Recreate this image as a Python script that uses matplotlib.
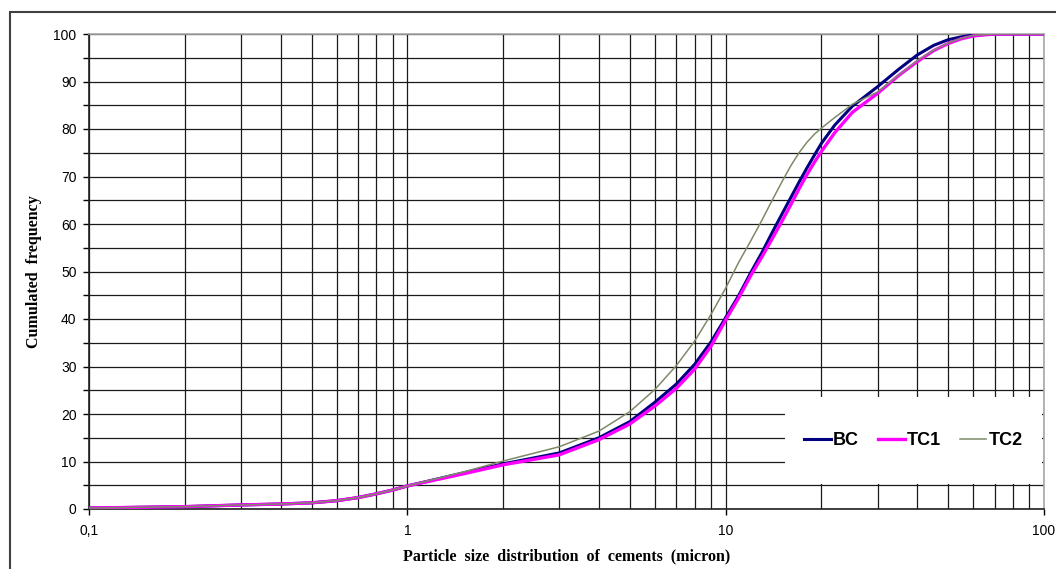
import matplotlib
matplotlib.use("Agg")
import matplotlib.pyplot as plt
from matplotlib.patches import Rectangle
from matplotlib.ticker import FixedLocator, FixedFormatter, MultipleLocator, NullFormatter, LogLocator

# particle sizes (micron)
sizes = [0.1, 0.2, 0.3, 0.4, 0.5, 0.6, 0.7, 0.8, 0.9, 1,
         1.5, 2, 3, 4, 5, 6, 7, 8, 9, 10,
         11, 12, 13, 14, 15, 16, 17, 18, 19, 20,
         22, 25, 30, 35, 40, 45, 50, 55, 60, 70,
         100]

# cumulated frequency (%) for each cement
bc_freq = [0.2, 0.5, 0.85, 1.05, 1.3, 1.75, 2.4, 3.2, 4.0, 4.85,
           7.6, 9.5, 11.8, 15.0, 18.4, 22.5, 26.3, 30.5, 35.2, 40.3,
           45.0, 49.8, 54.0, 58.2, 62.0, 65.5, 68.8, 71.8, 74.5, 77.0,
           80.8, 84.8, 88.9, 92.6, 95.6, 97.6, 98.8, 99.4, 99.8, 100,
           100]
tc1_freq = [0.2, 0.5, 0.85, 1.05, 1.3, 1.75, 2.4, 3.2, 4.0, 4.85,
            7.4, 9.3, 11.4, 14.6, 17.9, 21.7, 25.4, 29.5, 34.3, 39.8,
            44.5, 49.2, 53.1, 56.9, 60.5, 64.0, 67.4, 70.4, 73.0, 75.3,
            79.2, 83.5, 87.5, 91.3, 94.2, 96.5, 98.0, 99.0, 99.6, 100,
            100]
tc2_freq = [0.2, 0.5, 0.85, 1.05, 1.3, 1.75, 2.4, 3.2, 4.0, 4.85,
            7.8, 10.1, 13.1, 16.4, 20.5, 25.2, 30.2, 35.4, 41.0, 46.5,
            52.0, 56.5, 60.8, 65.0, 68.8, 72.2, 75.0, 77.2, 78.9, 80.2,
            82.4, 85.2, 87.8, 91.4, 94.4, 96.6, 98.1, 99.1, 99.7, 100,
            100]

x_ticks = [0.1, 1, 10, 100]
x_tick_labels = ["0,1", "1", "10", "100"]

fig = plt.figure(figsize=(10.56, 5.69), dpi=100)
ax = fig.add_axes([89 / 1056, 1 - 509 / 569, 955 / 1056, 475 / 569])

# outer frame of the chart area (only left and top edges are visible)
fig.add_artist(Rectangle((10 / 1056, -0.2), 1.2, 1.2 - 12 / 569,
                         transform=fig.transFigure, fill=False,
                         edgecolor="#404040", linewidth=1.5))

ax.plot(sizes, bc_freq, color="#000080", linewidth=2.2, label="BC", zorder=3)
ax.plot(sizes, tc1_freq, color="#ff00ff", linewidth=2.4, label="TC1", zorder=3)
ax.plot(sizes, tc2_freq, color="#7d8a68", linewidth=1.1, label="TC2", zorder=4)

ax.set_xscale("log")
ax.set_xlim(0.1, 100)
ax.set_ylim(0, 100)

ax.xaxis.set_major_locator(FixedLocator(x_ticks))
ax.xaxis.set_major_formatter(FixedFormatter(x_tick_labels))
ax.xaxis.set_minor_locator(LogLocator(base=10, subs=range(2, 10)))
ax.xaxis.set_minor_formatter(NullFormatter())

ax.yaxis.set_major_locator(MultipleLocator(10))
ax.yaxis.set_minor_locator(MultipleLocator(5))

ax.set_axisbelow(True)
ax.grid(True, which="both", color="#1a1a1a", linewidth=0.9)

ax.tick_params(axis="y", which="both", direction="out", length=4, width=1,
               pad=5, labelsize=10, colors="black")
ax.tick_params(axis="x", which="major", direction="out", length=4, width=1,
               pad=7, labelsize=10)
ax.tick_params(axis="x", which="minor", length=0)
for lbl in ax.get_xticklabels() + ax.get_yticklabels():
    lbl.set_fontfamily("Liberation Sans")

ax.spines["left"].set_color("#202020")
ax.spines["bottom"].set_color("#202020")
ax.spines["top"].set_color("#a8a8a8")
ax.spines["right"].set_color("#a8a8a8")
for sp in ax.spines.values():
    sp.set_linewidth(1.2)

ax.set_xlabel("Particle  size  distribution  of  cements  (micron)",
              fontfamily="Liberation Serif", fontweight="bold", fontsize=11.5,
              labelpad=7)
ax.set_ylabel("Cumulated  frequency", fontfamily="Liberation Serif",
              fontweight="bold", fontsize=11.5, labelpad=8)

# white legend box covering the grid
ax.add_patch(Rectangle((0.7288, 0.0526), 0.269, 0.1832, transform=ax.transAxes,
                       facecolor="white", edgecolor="none", zorder=2.5))
leg = ax.legend(loc="center", bbox_to_anchor=(0.8633, 0.144), ncol=3,
                frameon=False, handlelength=1.45, handletextpad=0.1,
                columnspacing=1.1,
                prop={"family": "Liberation Sans", "weight": "bold", "size": 13})
leg.set_zorder(5)

fig.savefig("out.png", dpi=100)
